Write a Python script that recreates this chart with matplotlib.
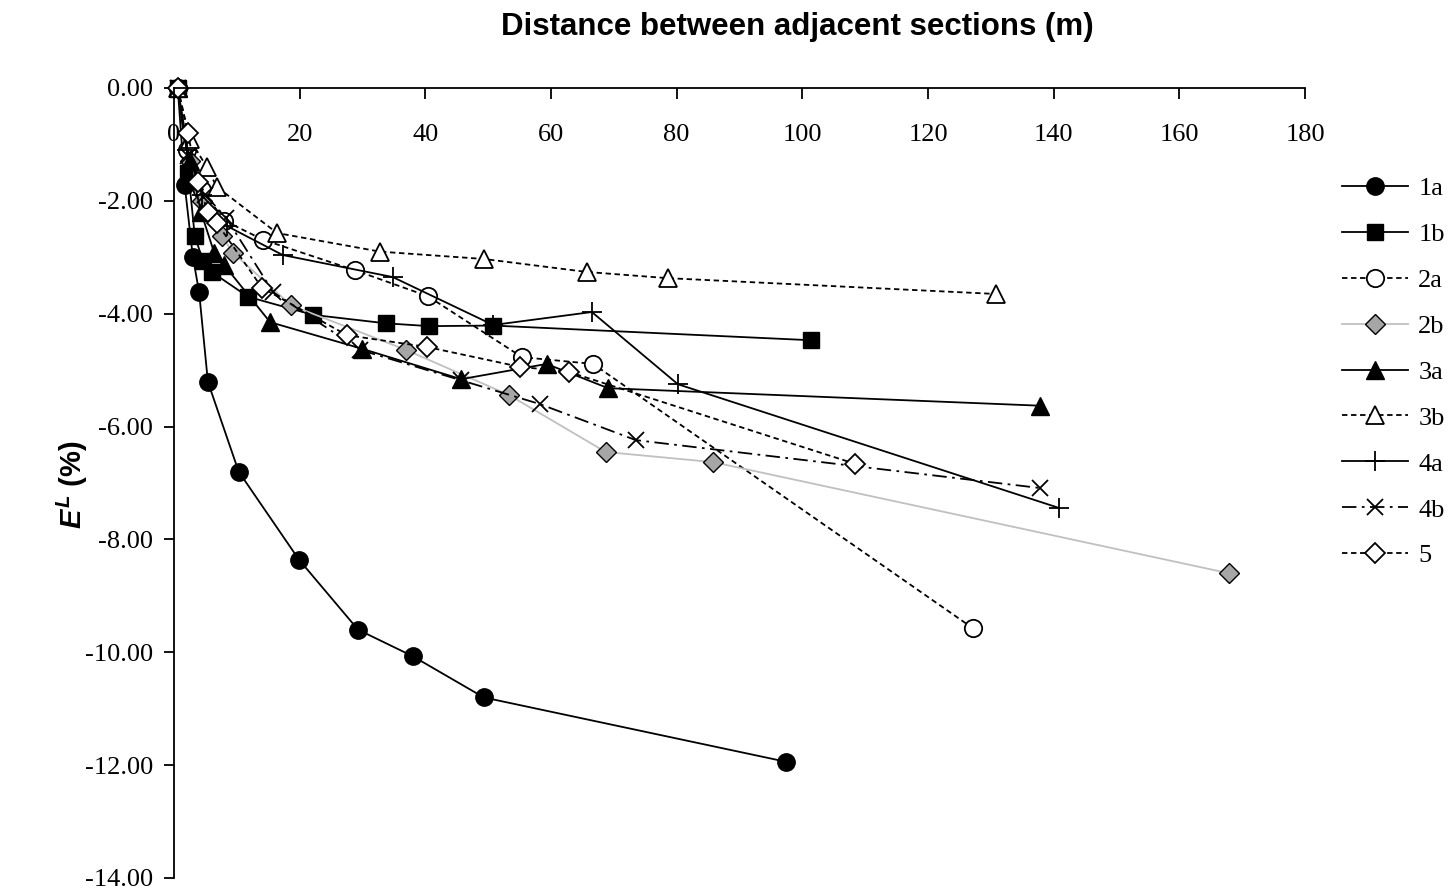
"""Longitudinal error E^L vs distance between adjacent sections."""

import matplotlib

matplotlib.use("Agg")
import matplotlib.pyplot as plt

# series data: distance (m), E^L (%)
x_1a = [0.6, 1.7, 3.0, 4.0, 5.4, 10.3, 19.9, 29.3, 38.0, 49.3, 97.4]
y_1a = [0.0, -1.72, -2.99, -3.62, -5.21, -6.80, -8.36, -9.60, -10.07, -10.80, -11.94]

x_1b = [0.6, 2.3, 3.3, 4.6, 6.0, 11.8, 22.1, 33.7, 40.6, 50.8, 101.4]
y_1b = [0.0, -1.5, -2.62, -3.06, -3.26, -3.70, -4.02, -4.17, -4.22, -4.21, -4.47]

x_2a = [0.6, 2.0, 4.5, 8.0, 14.2, 28.8, 40.4, 55.4, 66.7, 127.1]
y_2a = [0.0, -1.1, -1.8, -2.35, -2.69, -3.23, -3.69, -4.77, -4.89, -9.57]

x_2b = [0.6, 2.5, 4.5, 7.6, 9.4, 18.6, 36.9, 53.3, 68.7, 85.8, 167.9]
y_2b = [0.0, -1.3, -2.0, -2.62, -2.92, -3.85, -4.64, -5.44, -6.45, -6.63, -8.60]

x_3a = [0.6, 2.5, 4.3, 6.4, 8.0, 15.3, 29.9, 45.7, 59.3, 69.1, 137.8]
y_3a = [0.0, -1.3, -2.2, -2.92, -3.14, -4.15, -4.62, -5.16, -4.89, -5.32, -5.63]

x_3b = [0.6, 2.5, 5.2, 6.8, 16.4, 32.8, 49.3, 65.7, 78.6, 130.8]
y_3b = [0.0, -0.9, -1.4, -1.75, -2.57, -2.90, -3.03, -3.26, -3.37, -3.65]

x_4a = [0.6, 2.0, 4.5, 8.5, 17.3, 34.8, 50.8, 66.5, 80.2, 140.8]
y_4a = [0.0, -1.1, -1.9, -2.45, -2.96, -3.35, -4.20, -3.97, -5.25, -7.44]

x_4b = [0.6, 2.2, 5.0, 8.3, 15.8, 29.6, 45.7, 58.2, 73.5, 137.9]
y_4b = [0.0, -1.2, -1.9, -2.3, -3.62, -4.64, -5.18, -5.60, -6.24, -7.09]

x_5 = [0.6, 2.2, 3.8, 5.4, 6.8, 14.0, 27.5, 40.3, 55.0, 62.8, 108.4]
y_5 = [0.0, -0.8, -1.67, -2.2, -2.39, -3.54, -4.38, -4.59, -4.94, -5.03, -6.66]

x_ticks = [0, 20, 40, 60, 80, 100, 120, 140, 160, 180]
y_ticks = [0, -2, -4, -6, -8, -10, -12, -14]

SERIF = "Liberation Serif"
SANS = "Liberation Sans"

plt.rcParams["mathtext.fontset"] = "custom"
plt.rcParams["mathtext.it"] = "Liberation Sans:italic:bold"
plt.rcParams["mathtext.rm"] = "Liberation Sans:bold"

fig = plt.figure(figsize=(14.51, 8.94), dpi=100)
ax = fig.add_axes([174 / 1451, 1 - 878 / 894, (1305 - 174) / 1451, (878 - 88) / 894])

dash = (0, (3, 2))
lw = 1.3
series = [
    ("1a", x_1a, y_1a, dict(color="black", ls="-", marker="o", ms=12.5, mfc="black", mec="black")),
    ("1b", x_1b, y_1b, dict(color="black", ls="-", marker="s", ms=12, mfc="black", mec="black")),
    ("2a", x_2a, y_2a, dict(color="black", ls=dash, marker="o", ms=12.5, mfc="white", mec="black", mew=1.3)),
    ("2b", x_2b, y_2b, dict(color="#c0c0c0", ls="-", marker="D", ms=10, mfc="#a6a6a6", mec="black", mew=1.0)),
    ("3a", x_3a, y_3a, dict(color="black", ls="-", marker="^", ms=13, mfc="black", mec="black")),
    ("3b", x_3b, y_3b, dict(color="black", ls=dash, marker="^", ms=13, mfc="white", mec="black", mew=1.3)),
    ("4a", x_4a, y_4a, dict(color="black", ls="-", marker="+", ms=15, mec="black", mew=1.3)),
    ("4b", x_4b, y_4b, dict(color="black", ls=(0, (8, 3, 1.5, 3)), marker="x", ms=12, mec="black", mew=1.3)),
    ("5", x_5, y_5, dict(color="black", ls=dash, marker="D", ms=10, mfc="white", mec="black", mew=1.3)),
]
for label, xs, ys, style in series:
    ax.plot(xs, ys, lw=lw, label=label, clip_on=False, **style)

ax.set_xlim(0, 180)
ax.set_ylim(-14, 0)
ax.spines["bottom"].set_position(("data", 0))
ax.spines["top"].set_visible(False)
ax.spines["right"].set_visible(False)
for s in ("left", "bottom"):
    ax.spines[s].set_linewidth(1.3)
ax.set_xticks(x_ticks)
ax.set_yticks(y_ticks)
ax.set_yticklabels([f"{v:.2f}" for v in y_ticks])
ax.tick_params(axis="x", direction="out", length=8, width=1.3, pad=18)
ax.tick_params(axis="y", direction="out", length=7, width=1.3, pad=8)
for lab in ax.get_xticklabels() + ax.get_yticklabels():
    lab.set_fontfamily(SERIF)
    lab.set_fontsize(19)

fig.text(797 / 1451, 1 - 27 / 894, "Distance between adjacent sections (m)",
         ha="center", va="center", fontsize=22.5, fontweight="bold", family=SANS)
fig.text(72 / 1451, 1 - 485 / 894, r"$E^L$ (%)", rotation=90,
         ha="center", va="center", fontsize=21, fontweight="bold", family=SANS)

leg = ax.legend(loc="upper left", bbox_to_anchor=(1318 / 1451, 1 - 153 / 894),
                bbox_transform=fig.transFigure, frameon=False,
                prop={"family": SERIF, "size": 19}, handlelength=2.5,
                handletextpad=0.4, labelspacing=0.85)

fig.savefig("out.png", dpi=100)
